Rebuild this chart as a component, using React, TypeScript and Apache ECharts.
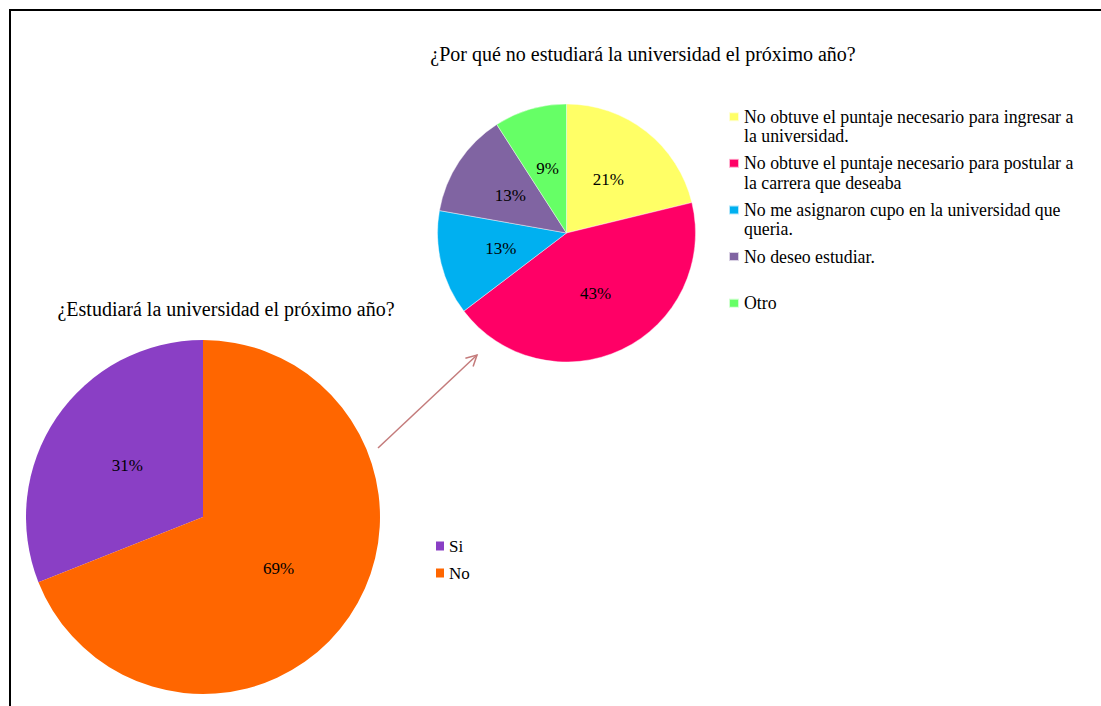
import React, { useEffect, useRef } from "react";
import * as echarts from "echarts";

const FONT = "'Liberation Serif', 'Times New Roman', serif";

const mainTitle = "¿Estudiará la universidad el próximo año?";
const mainCategories = ["Si", "No"];
const mainValues = [31, 69];
const mainColors = ["#8A3FC5", "#FF6600"];

const subTitle = "¿Por qué no estudiará la universidad el próximo año?";
const subCategories = [
  "No obtuve el puntaje necesario para ingresar a la universidad.",
  "No obtuve el puntaje necesario para postular a la carrera que deseaba",
  "No me asignaron cupo en la universidad que queria.",
  "No deseo estudiar.",
  "Otro",
];
const subLegendLabels = [
  "No obtuve el puntaje necesario para ingresar a\nla universidad.",
  "No obtuve el puntaje necesario para postular a\nla carrera que deseaba",
  "No me asignaron cupo en la universidad que\nqueria.",
  "No deseo estudiar.\n ",
  "Otro\n ",
];
const subValues = [21, 43, 13, 13, 9];
const subColors = ["#FFFF66", "#FF0066", "#00B0F0", "#8064A2", "#66FF66"];

export default function App() {
  const ref = useRef<HTMLDivElement>(null);

  useEffect(() => {
    document.body.style.margin = "0";
    if (!ref.current) return;
    const chart = echarts.init(ref.current, null, { renderer: "svg" });

    const tip = [477, 355];
    const start = [378, 448];

    chart.setOption({
      animation: false,
      backgroundColor: "#ffffff",
      textStyle: { fontFamily: FONT },
      title: [
        {
          text: subTitle,
          left: 643,
          top: 44,
          padding: 0,
          textAlign: "center",
          textStyle: { fontFamily: FONT, fontSize: 20, fontWeight: "normal", color: "#000" },
        },
        {
          text: mainTitle,
          left: 226,
          top: 299,
          padding: 0,
          textAlign: "center",
          textStyle: { fontFamily: FONT, fontSize: 20, fontWeight: "normal", color: "#000" },
        },
      ],
      legend: [
        {
          orient: "vertical",
          left: 436,
          top: 537,
          padding: 0,
          itemWidth: 8,
          itemHeight: 9,
          itemGap: 9,
          icon: "rect",
          data: mainCategories,
          textStyle: { fontFamily: FONT, fontSize: 17, lineHeight: 18, color: "#000" },
          selectedMode: false,
        },
        {
          orient: "vertical",
          left: 728,
          top: 106,
          padding: 0,
          itemWidth: 10,
          itemHeight: 39,
          itemGap: 5.6,
          icon: "path://M0,0 M0,5.25 L10,5.25 L10,14.25 L0,14.25 Z M10,39",
          data: subCategories,
          formatter: (name: string) => subLegendLabels[subCategories.indexOf(name)] ?? name,
          textStyle: { fontFamily: FONT, fontSize: 17.8, lineHeight: 19.5, color: "#000" },
          selectedMode: false,
        },
      ],
      series: [
        {
          type: "pie",
          center: [203, 517],
          radius: 177,
          startAngle: 90,
          clockwise: false,
          data: mainCategories.map((n, i) => ({ name: n, value: mainValues[i], itemStyle: { color: mainColors[i] } })),
          label: {
            show: true,
            position: "inside",
            formatter: "{c}%",
            fontFamily: FONT,
            fontSize: 17,
            color: "#000",
          },
          labelLine: { show: false },
          itemStyle: { borderWidth: 0 },
          emphasis: { disabled: true },
        },
        {
          type: "pie",
          center: [566.5, 233],
          radius: 129,
          startAngle: 90,
          clockwise: true,
          data: subCategories.map((n, i) => ({ name: n, value: subValues[i], itemStyle: { color: subColors[i] } })),
          label: {
            show: true,
            position: "inside",
            formatter: "{c}%",
            fontFamily: FONT,
            fontSize: 17,
            color: "#000",
          },
          labelLine: { show: false },
          itemStyle: { borderWidth: 0.6, borderColor: "rgba(255,255,255,0.7)" },
          emphasis: { disabled: true },
        },
      ],
      graphic: [
        {
          type: "rect",
          shape: { x: 10, y: 10, width: 1100, height: 710 },
          style: { fill: "none", stroke: "#000", lineWidth: 2 },
          silent: true,
        },
        {
          type: "line",
          shape: { x1: start[0], y1: start[1], x2: tip[0], y2: tip[1] },
          style: { stroke: "#C47B7B", lineWidth: 1.5 },
          silent: true,
        },
        {
          type: "polyline",
          shape: { points: [[465.4, 358.2], tip, [473.1, 366.4]] },
          style: { stroke: "#C47B7B", lineWidth: 1.5, fill: "none" },
          silent: true,
        },
      ],
    });

    return () => chart.dispose();
  }, []);

  return <div ref={ref} style={{ width: 1101, height: 706 }} />;
}
